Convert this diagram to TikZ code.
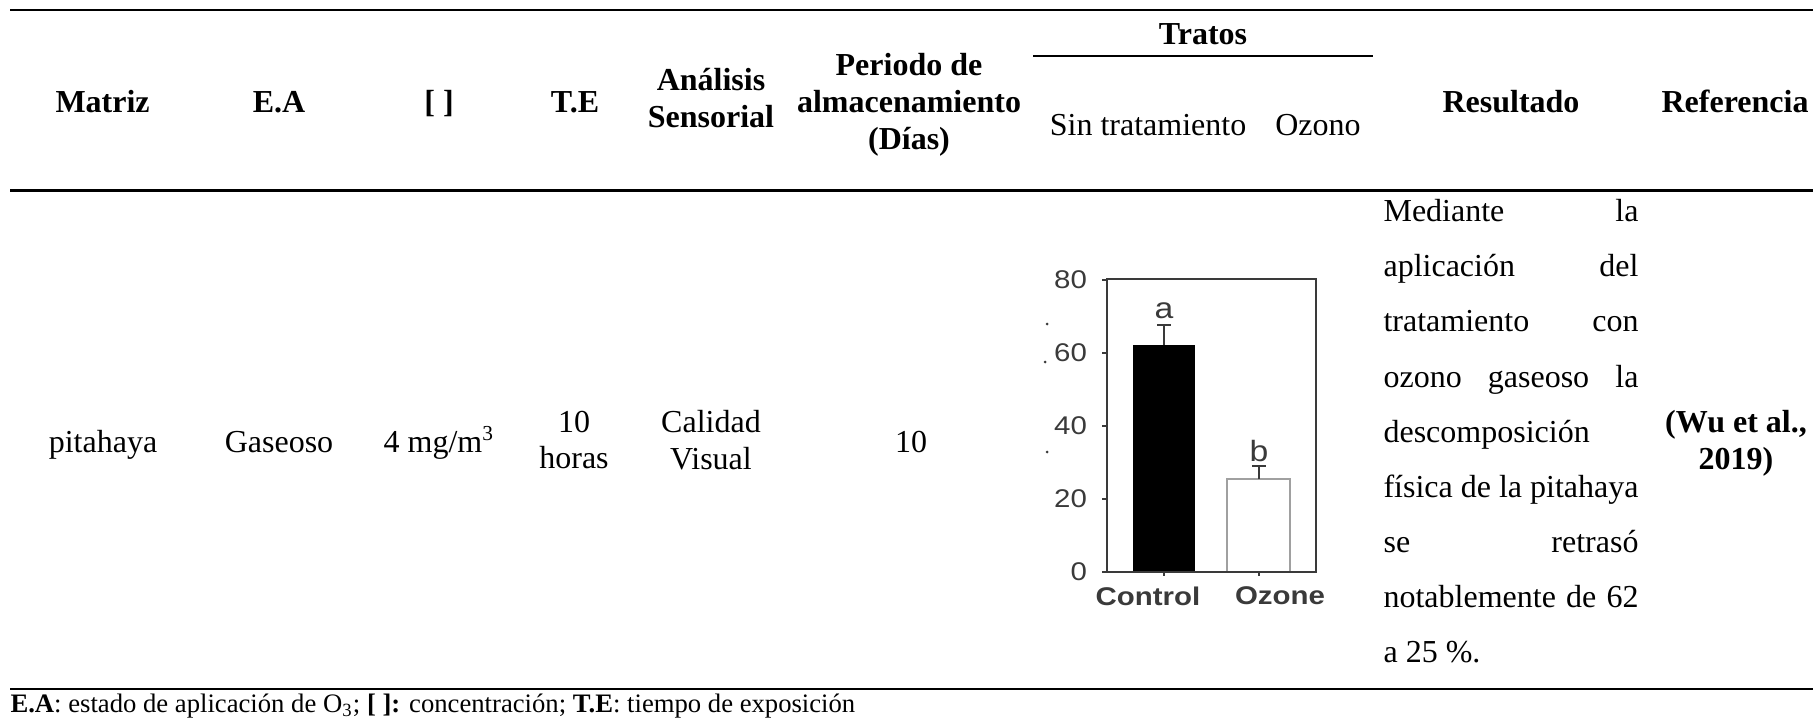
\documentclass[tikz,border=0pt]{standalone}
\usepackage{fontspec}
\setmainfont{Liberation Serif}
\newfontfamily\chartfont[FakeStretch=1.15]{Liberation Sans}
\definecolor{axisgray}{HTML}{3A3A3A}
\definecolor{bargray}{HTML}{A0A0A0}
\newcommand{\fullline}[1]{\makebox[95.6pt][s]{#1}}

\begin{document}
\begin{tikzpicture}[x=0.375pt, y=-0.375pt]
\useasboundingbox (0,0) rectangle (1813,720);

\coordinate (topl) at (10, 10);
\coordinate (topr) at (1813, 10);
\coordinate (midl) at (10, 190.5);
\coordinate (midr) at (1813, 190.5);
\coordinate (botl) at (10, 689);
\coordinate (botr) at (1813, 689);
\coordinate (tratl) at (1033, 56);
\coordinate (tratr) at (1373, 56);

\begin{scope}[line width=1pt]
    \draw (topl) -- (topr);
    \draw (midl) -- (midr);
    \draw (botl) -- (botr);
    \draw [line width=0.85pt] (tratl) -- (tratr);
\end{scope}

\begin{scope}[every node/.style={inner sep=0pt, align=center, font=\fontsize{12}{13.8}\selectfont\bfseries}]
    \node (matriz) at (102.6, 112.5) [anchor=base] {Matriz};
    \node (ea) at (279, 112.5) [anchor=base] {E.A};
    \node (conc) at (439, 112.5) [anchor=base] {[ ]};
    \node (te) at (575, 112.5) [anchor=base] {T.E};
    \node (sensorial) at (711, 98) {Análisis\\Sensorial};
    \node (periodo) at (909, 104.6) {Periodo de\\almacenamiento\\(Días)};
    \node (tratos) at (1203, 45) [anchor=base] {Tratos};
    \node (resultado) at (1511, 112.5) [anchor=base] {Resultado};
    \node (referencia) at (1735, 112.5) [anchor=base] {Referencia};
    \node (cita) at (1736, 443) {(Wu et al.,\\2019)};
\end{scope}

\begin{scope}[every node/.style={inner sep=0pt, align=center, font=\fontsize{12}{13.8}\selectfont}]
    \node (sintrat) at (1148, 135.5) [anchor=base] {Sin tratamiento};
    \node (ozono) at (1318, 135.5) [anchor=base] {Ozono};

    \node (pitahaya) at (103, 452) [anchor=base] {pitahaya};
    \node (gaseoso) at (279, 452) [anchor=base] {Gaseoso};
    \node (dosis) at (439, 452) [anchor=base] {4 mg/m\textsuperscript{3}};
    \node (horas) at (574, 440) {10\\horas};
    \node (calidad) at (711, 440) {Calidad\\Visual};
    \node (dias) at (911, 452) [anchor=base] {10};

    \node (texto) at (1383, 199) [anchor=north west, align=left, font=\fontsize{12}{20.66}\selectfont]
        {\fullline{Mediante la}\\\fullline{aplicación del}\\\fullline{tratamiento con}\\
         \fullline{ozono gaseoso la}\\descomposición\\\fullline{física de la pitahaya}\\
         \fullline{se retrasó}\\\fullline{notablemente de 62}\\a 25 \%.};

    \node (nota) at (10, 712.5) [anchor=base west, font=\fontsize{10}{12}\selectfont]
        {\textbf{E.A}: estado de aplicación de O\textsubscript{3}; \textbf{[ ]:} concentración; \textbf{T.E}: tiempo de exposición};
\end{scope}

\begin{scope}[axisgray, line width=0.8pt,
              every node/.style={inner sep=0pt, text=axisgray, font=\chartfont\fontsize{9.6}{11}\selectfont}]
    \fill [black] (1133, 345) rectangle (1195, 572);
    \draw [bargray, line width=0.6pt] (1227, 572) rectangle (1290, 479);
    \draw (1107, 279) rectangle (1316, 572);
    \foreach \v in {0, 20, 40, 60, 80} {
        \draw (1107, 572-3.65*\v) -- ++(-5, 0);
        \node (eje\v) at (1088, 572-3.65*\v) [anchor=east] {\v};
    }
    \draw (1164, 345) -- (1164, 325) (1157, 325) -- (1171, 325);
    \draw (1259, 479) -- (1259, 466) (1252, 466) -- (1266, 466);
    \draw (1164, 572) -- (1164, 576) (1259, 572) -- (1259, 576);
    \node (letraa) at (1164, 318) [anchor=base, font=\chartfont\fontsize{11}{12}\selectfont] {a};
    \node (letrab) at (1259, 461) [anchor=base, font=\chartfont\fontsize{11}{12}\selectfont] {b};
    \node (control) at (1148, 596) [font=\chartfont\fontsize{9.6}{11}\selectfont\bfseries] {Control};
    \node (ozone) at (1280, 596) [font=\chartfont\fontsize{9.6}{11}\selectfont\bfseries] {Ozone};
    \fill [axisgray] (1047, 324) circle (1.5) (1045, 362) circle (1.5) (1047, 452) circle (1.5);
\end{scope}
\end{tikzpicture}
\end{document}
